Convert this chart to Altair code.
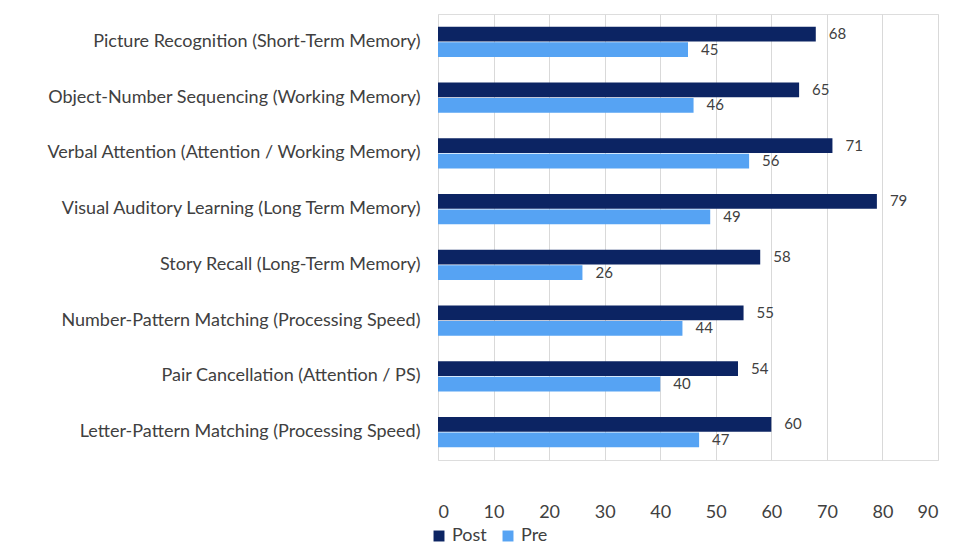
import altair as alt
import pandas as pd

categories = [
    "Picture Recognition (Short-Term Memory)",
    "Object-Number Sequencing (Working Memory)",
    "Verbal Attention (Attention / Working Memory)",
    "Visual Auditory Learning (Long Term Memory)",
    "Story Recall (Long-Term Memory)",
    "Number-Pattern Matching (Processing Speed)",
    "Pair Cancellation (Attention / PS)",
    "Letter-Pattern Matching (Processing Speed)",
]
post = [68, 65, 71, 79, 58, 55, 54, 60]
pre = [45, 46, 56, 49, 26, 44, 40, 47]
series = ["Post", "Pre"]
ticks = [0, 10, 20, 30, 40, 50, 60, 70, 80, 90]

rows = []
for c, a, b in zip(categories, post, pre):
    rows.append({"Test": c, "Series": "Post", "Score": a})
    rows.append({"Test": c, "Series": "Pre", "Score": b})
df = pd.DataFrame(rows)

FONT = "Lato"

y_enc = alt.Y(
    "Test:N",
    sort=categories,
    title=None,
    scale=alt.Scale(paddingInner=0.46, paddingOuter=0.23),
    axis=alt.Axis(
        ticks=False, domain=False, grid=False, labelFontSize=18, labelColor="#404040",
        labelPadding=18, labelLimit=430, labelFont=FONT,
    ),
)
x_enc = alt.X(
    "Score:Q",
    title=None,
    scale=alt.Scale(domain=[0, 90], nice=False),
    axis=alt.Axis(
        values=ticks, ticks=False, domain=False, grid=True, gridColor="#d9d9d9",
        labelFontSize=18, labelColor="#404040", labelPadding=43, labelFont=FONT,
    ),
)
yoff = alt.YOffset("Series:N", sort=series, scale=alt.Scale(paddingInner=0.05))

base = alt.Chart(df)

bars = base.mark_bar().encode(
    y=y_enc,
    x=x_enc,
    yOffset=yoff,
    color=alt.Color(
        "Series:N",
        sort=series,
        scale=alt.Scale(domain=series, range=["#0c2463", "#56a3f3"]),
        legend=alt.Legend(
            title=None, orient="none", direction="horizontal", legendX=-8, legendY=513,
            symbolType="square", symbolSize=120, symbolStrokeWidth=0,
            labelFontSize=18, labelColor="#404040", labelFont=FONT, columnPadding=12,
        ),
    ),
)

labels = base.mark_text(align="left", baseline="middle", dx=13, fontSize=15,
                        color="#404040", font=FONT).encode(
    y=alt.Y("Test:N", sort=categories),
    x=alt.X("Score:Q"),
    yOffset=alt.YOffset("Series:N", sort=series),
    text="Score:Q",
)

chart = (
    alt.layer(bars, labels)
    .properties(
        width=500, height=446,
        autosize=alt.AutoSizeParams(type="none"),
        padding={"left": 430, "top": 6, "right": 30, "bottom": 84},
    )
    .configure_view(stroke="transparent", strokeWidth=0)
    .configure_axis(domain=False)
    .configure(background="white")
)

chart.save("out.html", embed_options={"renderer": "svg", "actions": False})
